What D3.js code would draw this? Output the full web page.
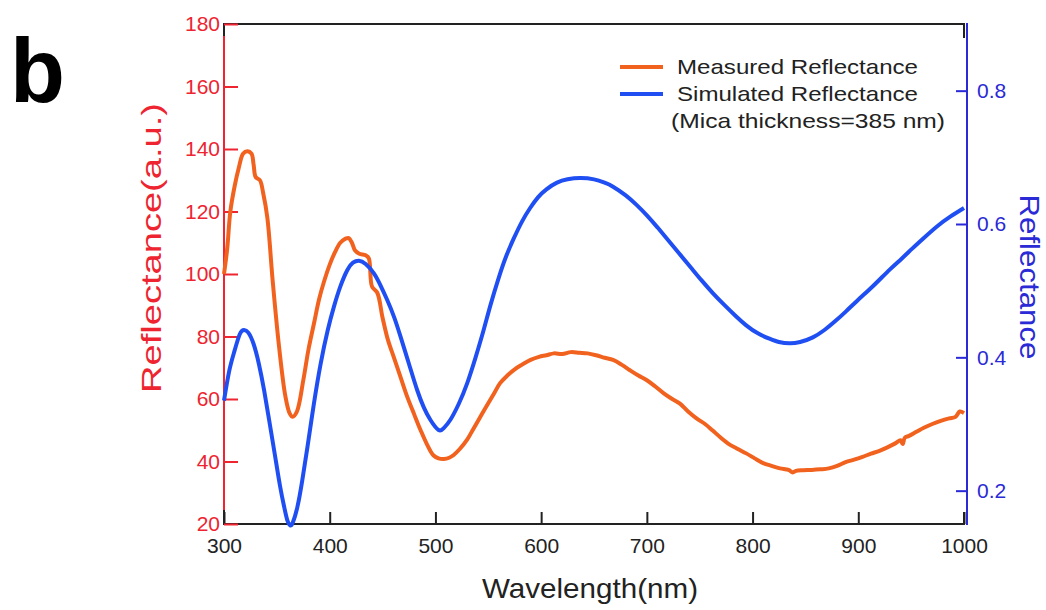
<!DOCTYPE html>
<html>
<head>
<meta charset="utf-8">
<script src="https://cdn.jsdelivr.net/npm/d3@7"></script>
<style>
  body { margin: 0; background: #fff; }
  text { font-family: "Liberation Sans", Arial, sans-serif; }
</style>
</head>
<body>
<svg id="chart" width="1046" height="610"></svg>
<script>
// measured reflectance (left axis, a.u.)
var measWl = [300, 303, 306, 310, 314, 318, 322, 326, 328, 330, 334, 337, 341, 346, 352, 358, 362, 365, 369, 375,
    380, 385, 390, 395, 400, 405, 410, 415, 418, 421, 424, 428, 434, 437, 440, 445, 450, 455, 461, 467,
    473, 480, 486, 492, 498, 503, 508, 513, 517, 523, 530, 536, 542, 548, 555, 561, 568, 575, 582, 590,
    598, 605, 612, 620, 628, 636, 644, 652, 660, 668, 676, 684, 692, 700, 708, 716, 724, 731, 739, 747,
    755, 762, 770, 778, 786, 794, 802, 810, 818, 826, 834, 838, 841, 848, 856, 864, 872, 880, 888, 896,
    904, 912, 920, 928, 935, 940, 942, 944, 948, 955, 962, 970, 978, 986, 992, 996, 1000];
var measVal = [100, 108, 120, 128, 134, 138.5, 139.3, 138.5, 135, 131, 130, 126, 118, 98, 77, 61, 55.5, 54.3, 56, 66,
    76, 84, 92, 98, 103, 107, 110, 111.3, 111.5, 110, 107.5, 106.5, 106, 105, 96, 94, 86, 79, 73, 67,
    61, 55, 50, 45.5, 42, 41, 40.8, 41.2, 42, 44, 47, 50.5, 54, 57.5, 61.5, 65, 67.5, 69.5, 71, 72.5,
    73.5, 74, 74.6, 74.4, 75, 74.8, 74.6, 74, 73.2, 72.5, 71, 69.2, 67.5, 66, 64, 61.8, 60, 58.6, 56, 53.8,
    52, 50, 47.6, 45.5, 44, 42.6, 41, 39.5, 38.6, 37.8, 37.3, 36.5, 37, 37.2, 37.3, 37.5, 37.8, 38.6, 39.8, 40.6,
    41.5, 42.5, 43.4, 44.6, 45.8, 46.8, 45.6, 47.6, 48.2, 49.5, 50.8, 52, 53, 53.8, 54.3, 56, 55.5];

// simulated reflectance (right axis)
var simWl = [300, 305, 310, 315, 319, 323, 328, 333, 338, 343, 348, 353, 357, 360, 362.5, 365, 369.5, 374, 379, 385,
    391.5, 398, 404, 410, 416.7, 422, 427.6, 434, 441.8, 448, 454.4, 461, 467, 475, 482.7, 489, 495.3, 503, 508, 514,
    522, 530, 538, 545.6, 552, 560, 567, 574, 582, 589.6, 597, 605, 615, 625, 636.8, 650, 660, 668, 680, 690,
    700, 710, 720, 731, 742, 752, 762.6, 773, 784, 794, 805, 816, 825, 835, 845, 857, 868, 878, 888.4, 899,
    910, 919.8, 930, 941, 951, 962, 975, 987, 1000];
var simVal = [0.335, 0.38, 0.41, 0.435, 0.441, 0.437, 0.42, 0.39, 0.35, 0.303, 0.255, 0.207, 0.175, 0.155, 0.148, 0.152, 0.176, 0.215, 0.266, 0.33,
    0.391, 0.44, 0.476, 0.506, 0.531, 0.542, 0.545, 0.54, 0.526, 0.508, 0.486, 0.46, 0.431, 0.39, 0.351, 0.325, 0.306, 0.291, 0.294, 0.306,
    0.33, 0.361, 0.4, 0.441, 0.478, 0.52, 0.552, 0.578, 0.604, 0.624, 0.64, 0.652, 0.662, 0.667, 0.669, 0.667, 0.662, 0.656, 0.643, 0.629,
    0.613, 0.595, 0.576, 0.555, 0.534, 0.515, 0.496, 0.479, 0.462, 0.448, 0.436, 0.428, 0.423, 0.421, 0.423, 0.43, 0.441, 0.454, 0.469, 0.485,
    0.501, 0.516, 0.532, 0.548, 0.563, 0.579, 0.597, 0.611, 0.624];

var xTicks = [300, 400, 500, 600, 700, 800, 900, 1000];
var leftTicks = [20, 40, 60, 80, 100, 120, 140, 160, 180];
var rightTicks = [0.2, 0.4, 0.6, 0.8];
var legendLabels = ["Measured Reflectance", "Simulated Reflectance", "(Mica thickness=385 nm)"];

var orange = "#f2621f", blue = "#1f4ff2", red = "#ee2430", axisBlue = "#2a2ad6";

var svg = d3.select("#chart");
var pLeft = 224, pRight = 964, pTop = 24, pBottom = 524;

var x = d3.scaleLinear().domain([300, 1000]).range([pLeft, pRight]);
var yL = d3.scaleLinear().domain([20, 180]).range([pBottom, pTop]);
var yR = d3.scaleLinear().domain([0.15, 0.9]).range([pBottom, pTop]);

// panel letter
svg.append("text")
    .attr("x", 10).attr("y", 102)
    .attr("font-size", 90).attr("font-weight", "bold")
    .text("b");

// black frame (only the corners show past the coloured axes)
svg.append("path")
    .attr("d", "M" + pLeft + "," + (pTop + 12) + "V" + pTop + "H" + pRight + "V" + (pTop + 14))
    .attr("fill", "none").attr("stroke", "#222").attr("stroke-width", 2);
svg.append("path")
    .attr("d", "M" + pLeft + "," + (pBottom - 14) + "V" + pBottom + "H" + pRight + "V" + (pBottom - 12))
    .attr("fill", "none").attr("stroke", "#222").attr("stroke-width", 2);

// bottom axis
var gx = svg.append("g")
    .attr("transform", "translate(0," + pBottom + ")")
    .call(d3.axisBottom(x).tickValues(xTicks).tickFormat(d3.format("d"))
        .tickSizeInner(-12).tickSizeOuter(0).tickPadding(14));
gx.select(".domain").remove();
gx.selectAll("line").attr("stroke", "#222").attr("stroke-width", 2);
gx.selectAll("text").attr("font-size", 21).attr("fill", "#222");

// left axis
var gl = svg.append("g")
    .attr("transform", "translate(" + pLeft + ",0)")
    .call(d3.axisLeft(yL).tickValues(leftTicks)
        .tickSizeInner(-14).tickSizeOuter(0).tickPadding(4));
gl.select(".domain").remove();
gl.selectAll("line").attr("stroke", red).attr("stroke-width", 2);
gl.selectAll("text").attr("font-size", 21).attr("fill", red);
svg.append("line")
    .attr("x1", pLeft).attr("x2", pLeft).attr("y1", pTop + 12).attr("y2", pBottom - 14)
    .attr("stroke", red).attr("stroke-width", 2);

// right axis
var gr = svg.append("g")
    .attr("transform", "translate(" + (pRight + 3) + ",0)")
    .call(d3.axisRight(yR).tickValues(rightTicks).tickFormat(d3.format(".1f"))
        .tickSizeInner(-11).tickSizeOuter(0).tickPadding(10));
gr.select(".domain").remove();
gr.selectAll("line").attr("stroke", axisBlue).attr("stroke-width", 2);
gr.selectAll("text").attr("font-size", 21).attr("fill", axisBlue);
svg.append("line")
    .attr("x1", pRight + 3).attr("x2", pRight + 3).attr("y1", pTop - 1).attr("y2", pBottom + 1)
    .attr("stroke", axisBlue).attr("stroke-width", 2);

// curves
var measLine = d3.line()
    .x(function (d, i) { return x(measWl[i]); })
    .y(function (d) { return yL(d); })
    .curve(d3.curveCatmullRom);
var simLine = d3.line()
    .x(function (d, i) { return x(simWl[i]); })
    .y(function (d) { return yR(d); })
    .curve(d3.curveNatural);

svg.append("path")
    .attr("d", measLine(measVal))
    .attr("fill", "none").attr("stroke", orange).attr("stroke-width", 4)
    .attr("stroke-linejoin", "round");
svg.append("path")
    .attr("d", simLine(simVal))
    .attr("fill", "none").attr("stroke", blue).attr("stroke-width", 4)
    .attr("stroke-linejoin", "round");

// axis titles
svg.append("text")
    .attr("transform", "translate(161,248) rotate(-90)")
    .attr("text-anchor", "middle")
    .attr("font-size", 28).attr("fill", red)
    .attr("textLength", 290).attr("lengthAdjust", "spacingAndGlyphs")
    .text("Reflectance(a.u.)");
svg.append("text")
    .attr("transform", "translate(1020,277) rotate(90)")
    .attr("text-anchor", "middle")
    .attr("font-size", 28).attr("fill", axisBlue)
    .attr("textLength", 165).attr("lengthAdjust", "spacingAndGlyphs")
    .text("Reflectance");
svg.append("text")
    .attr("x", 590).attr("y", 598)
    .attr("text-anchor", "middle")
    .attr("font-size", 28).attr("fill", "#222")
    .attr("textLength", 216).attr("lengthAdjust", "spacingAndGlyphs")
    .text("Wavelength(nm)");

// legend
var legColors = [orange, blue];
legColors.forEach(function (c, i) {
    svg.append("line")
        .attr("x1", 620).attr("x2", 663)
        .attr("y1", 67 + i * 27).attr("y2", 67 + i * 27)
        .attr("stroke", c).attr("stroke-width", 4);
});
var legLens = [241, 241, 274];
var legX = [677, 677, 671];
legendLabels.forEach(function (t, i) {
    svg.append("text")
        .attr("x", legX[i]).attr("y", 74 + i * 27)
        .attr("font-size", 21).attr("fill", "#222")
        .attr("textLength", legLens[i]).attr("lengthAdjust", "spacingAndGlyphs")
        .text(t);
});
</script>
</body>
</html>
